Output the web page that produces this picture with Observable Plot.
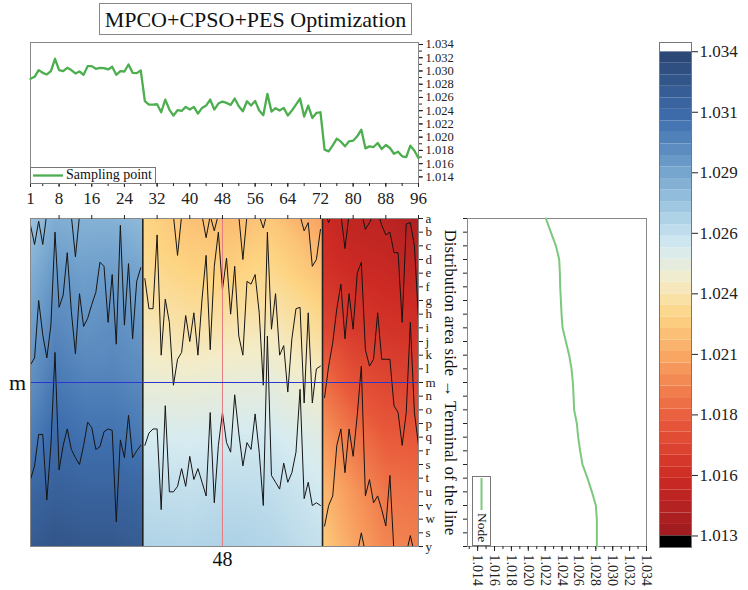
<!DOCTYPE html>
<html><head><meta charset="utf-8">
<script src="https://cdn.jsdelivr.net/npm/d3@7"></script>
<script src="https://cdn.jsdelivr.net/npm/@observablehq/plot@0.6"></script>
<style>
body{margin:0;background:#fff;}
#root{position:relative;width:748px;height:590px;font-family:"Liberation Serif","Times New Roman",serif;overflow:hidden;}
#root svg, #root svg text{font-family:"Liberation Serif","Times New Roman",serif !important;}
.abs{position:absolute;}
#title{left:99px;top:3px;width:311px;height:30px;border:1px solid #888;font-size:22px;text-align:center;line-height:31px;color:#111;}
</style></head>
<body><div id="root"><div id="title" class="abs">MPCO+CPSO+PES Optimization</div></div>
<script>
// ---------- data ----------
const samplingValues = [
 1.02881,1.02912,1.03013,1.02972,1.02947,1.02997,1.03184,1.03013,1.02997,1.03048,
 1.03013,1.02962,1.02992,1.02942,1.03073,1.03073,1.03033,1.03048,1.03043,1.03023,
 1.03063,1.02942,1.02997,1.02992,1.03098,1.02972,1.02967,1.03008,1.02543,1.02492,
 1.02492,1.02497,1.02376,1.02568,1.02417,1.02326,1.02407,1.02396,1.02457,1.02417,
 1.02457,1.02356,1.02442,1.02477,1.02568,1.02417,1.02508,1.02538,1.02518,1.02487,
 1.02583,1.02467,1.02391,1.02543,1.02477,1.02548,1.02402,1.02331,1.02654,1.02386,
 1.02437,1.02402,1.02442,1.02326,1.02402,1.02492,1.02583,1.02311,1.02477,1.02290,
 1.02366,1.02376,1.01811,1.01785,1.01876,1.01977,1.01932,1.01861,1.01937,1.01947,
 1.02013,1.02114,1.01831,1.01861,1.01851,1.01912,1.01821,1.01881,1.01836,1.01750,
 1.01780,1.01710,1.01700,1.01871,1.01795,1.01684];
const xTickLabels = [1, 8, 16, 24, 32, 40, 48, 56, 64, 72, 80, 88, 96];

const rowLabels = ["a","b","c","d","e","f","g","h","i","j","k","l","m","n","o","p","q","r","s","t","u","v","w","s","y"];
const nodeValues = [1.02208,1.02267,1.02327,1.02366,1.02374,1.02378,1.02386,1.02394,1.02406,1.02445,
 1.02484,1.02512,1.02528,1.02536,1.02543,1.02575,1.02591,1.02614,1.02642,1.02701,
 1.02753,1.02800,1.02812,1.02812,1.02812];

const selectedCol = 48;
const selectedRow = "m";

// heat map samples: rows (node index) x sample columns
const sampleRows = [0, 4, 8, 12, 16, 20, 24];
const blueCols = [1, 7, 14, 21, 28.5];
const blueGrid = [
 [1.0274,1.0284,1.0282,1.0282,1.0278],
 [1.0283,1.0293,1.0290,1.0291,1.0288],
 [1.0290,1.0300,1.0295,1.0297,1.0293],
 [1.0296,1.0306,1.0302,1.0302,1.0299],
 [1.0304,1.0313,1.0309,1.0309,1.0305],
 [1.0316,1.0320,1.0318,1.0318,1.0316],
 [1.0324,1.0328,1.0326,1.0326,1.0323]];
const midCols = [28.5, 40, 50, 60, 72.5];
const midGrid = [
 [1.0226,1.0218,1.0216,1.0220,1.0206],
 [1.0230,1.0225,1.0224,1.0228,1.0218],
 [1.0237,1.0233,1.0235,1.0237,1.0229],
 [1.0245,1.0244,1.0246,1.0247,1.0240],
 [1.0255,1.0254,1.0256,1.0256,1.0250],
 [1.0262,1.0261,1.0263,1.0262,1.0256],
 [1.0267,1.0266,1.0268,1.0266,1.0260]];
const redCols = [72.5, 80, 88, 96];
const redGrid = [
 [1.0155,1.0148,1.0146,1.0140],
 [1.0160,1.0155,1.0153,1.0150],
 [1.0170,1.0163,1.0160,1.0158],
 [1.0188,1.0176,1.0170,1.0168],
 [1.0203,1.0190,1.0180,1.0178],
 [1.0215,1.0202,1.0190,1.0188],
 [1.0222,1.0208,1.0196,1.0194]];
const blockEdges = [28.5, 72.5];

// contour lines (node position per sampling point)
const blueTopA = [0.5, 1.9, 0.2, 1.9, -0.4];                       // from col 1
const blueTopB = [-0.5, -0.2, 2.8, -0.2, -0.5];                    // from col 10
const blueMid = [10.7,10.2,6.0,8.5,10.2,7.8,1.0,6.5,5.6,2.5,6.8,9.9,5.5,7.9,7.3,6.3,5.4,3.2,3.5,7.6,4.1,9.2,0.5,7.8,3.3,8.8,4.6,3.6];
const blueLow = [19.1,18.1,15.8,15.8,20.6,16.6,9.8,18.4,16.6,15.4,16.9,17.5,18.0,16.6,14.9,15.3,16.9,16.7,15.6,15.4,15.5,22.2,16.2,17.5,14.4,17.5,17.0,16.6];
const midTop = [-0.5,-0.5,-0.5,-0.5,-0.5,-0.5,-0.5,-0.2,2.7,-0.2,-0.5,-0.5,-0.5,-0.5,-0.2,1.4,-0.2,0.9,-0.3,-0.5,-0.5,-0.5,-0.5,-0.2,3.0,-0.2,-0.5,-0.5,-0.2,0.7,-0.5,-0.5,-0.5,-0.5,-0.5,-0.2,-0.5,-0.5,-0.2,0.9,0.3,3.5,3.0,0.8];
const midMid = [4.4,6.6,6.6,1.2,10.0,5.9,7.6,12.2,10.3,9.8,7.1,9.0,6.9,10.0,5.9,2.7,9.6,3.5,1.0,5.2,2.9,7.0,3.5,8.6,10.0,4.6,4.8,4.1,6.9,12.2,1.0,8.1,5.5,10.0,9.3,12.7,8.8,6.6,6.5,13.5,6.9,13.5,11.0,10.8];
const midLow = [16.6,15.7,15.4,15.4,21.3,13.7,20.0,20.0,19.6,18.3,19.6,17.4,19.1,18.3,19.3,20.3,14.2,20.8,16.6,14.2,16.4,17.1,12.9,15.7,18.1,16.4,16.9,14.3,17.1,21.0,8.6,18.8,19.3,19.8,17.9,19.3,18.6,17.1,12.5,20.5,19.3,21.0,20.8,21.0];
const redTop = [-0.5,0.3,-0.5,-0.5,-0.3,2.2,-0.3,-0.5,-0.5,-0.5,0.8,0.3,-0.3,-0.5,0.5,1.2,1.0,2.5,2.5,7.6,0.4,0.3,2.0,7.4];
const redMid = [13.1,10.8,9.1,6.6,4.8,8.8,5.5,8.1,4.0,3.2,9.6,10.8,10.3,6.9,10.3,10.3,10.3,13.7,14.2,16.6,14.2,7.6,14.2,16.6];
const redLow = [22.5,21.0,20.3,16.6,15.4,18.6,15.4,17.4,14.4,10.8,20.3,19.1,20.8,20.3,21.3,22.5,18.8,24.5,25.0];
const redBottomA = [24.5, 23.0, 24.5];   // from col 81
const redBottomB = [24.5, 23.2, 24.5];   // from col 93

// colour bar
const colorStops = [1.013, 1.0155, 1.018, 1.0205, 1.0225, 1.024, 1.0255, 1.027, 1.029, 1.031, 1.034];
const colorRange = ["#9c1a1e","#cd2a24","#e95a3b","#f89f5f","#fdd482","#f4ecc8","#d6ebf1","#a6cde4","#6f9fcb","#3f6fae","#2a4471"];
const colorbarLabels = ["1.013","1.016","1.018","1.021","1.024","1.026","1.029","1.031","1.034"];

// ---------- helpers ----------
const serif = '"Liberation Serif","Times New Roman",serif';
const baseStyle = {background: "transparent", fontFamily: serif, color: "#222", overflow: "visible"};
const colorOpts = {type: "linear", domain: colorStops, range: colorRange, clamp: true};
const root = document.getElementById("root");
function place(el, left, top) {
  const d = document.createElement("div");
  d.className = "abs"; d.style.left = left + "px"; d.style.top = top + "px";
  d.appendChild(el); root.appendChild(d);
}
function samples(cols, grid) {
  const out = [];
  sampleRows.forEach((r, ri) => cols.forEach((c, ci) => out.push({x: c, y: r, v: grid[ri][ci]})));
  return out;
}
const contourSpecs = [[1, blueTopA], [10, blueTopB], [1, blueMid], [1, blueLow], [29, midTop], [29, midMid], [29, midLow],
  [73, redTop], [73, redMid], [73, redLow], [81, redBottomA], [93, redBottomB]];
const contourData = contourSpecs.flatMap(([start, arr], id) => arr.map((y, i) => ({x: start + i, y, id})));
const rowTicks = rowLabels.map((_, i) => i);
const selectedRowIndex = rowLabels.indexOf(selectedRow);

// ---------- top line chart ----------
const topChart = Plot.plot({
  width: 470, height: 182, marginLeft: 30, marginRight: 52, marginTop: 12, marginBottom: 29,
  style: baseStyle,
  x: {domain: [1, 96]}, y: {domain: [1.013, 1.0343]},
  marks: [
    Plot.frame({stroke: "#888"}),
    Plot.axisX({ticks: d3.range(4, 97, 4), tickSize: 3, tickFormat: () => "", label: null}),
    Plot.axisX({ticks: xTickLabels, tickSize: 4, tickPadding: 4, fontSize: 17, label: null}),
    Plot.axisY({anchor: "right", ticks: d3.ticks(1.014, 1.034, 20), tickSize: 3, tickFormat: () => "", label: null}),
    Plot.axisY({anchor: "right", ticks: d3.ticks(1.014, 1.034, 10), tickSize: 4, tickPadding: 3, tickFormat: ".3f", fontSize: 12.5, label: null}),
    Plot.line(samplingValues, {x: (d, i) => i + 1, y: d => d, stroke: "#4cae4f", strokeWidth: 2.3})
  ]
});
place(topChart, 0, 30);
{
  const g = d3.select(topChart).append("g");
  g.append("rect").attr("x", 30.5).attr("y", 137.5).attr("width", 125).attr("height", 16).attr("fill", "white").attr("stroke", "#777");
  g.append("line").attr("x1", 33).attr("x2", 63).attr("y1", 145.5).attr("y2", 145.5).attr("stroke", "#4cae4f").attr("stroke-width", 2.3);
  g.append("text").attr("x", 66).attr("y", 146).attr("text-anchor", "start").attr("dominant-baseline", "middle").attr("font-size", 14).attr("fill", "#111").text("Sampling point");
}

// ---------- heat map ----------
const heat = Plot.plot({
  width: 470, height: 378, marginLeft: 30, marginRight: 52, marginTop: 6, marginBottom: 44,
  style: baseStyle,
  x: {domain: [1, 96]}, y: {domain: [0, 24], reverse: true},
  color: colorOpts,
  marks: [
    Plot.raster(samples(blueCols, blueGrid), {x: "x", y: "y", fill: "v", x1: 1, x2: 28.5, y1: 0, y2: 24, interpolate: "barycentric"}),
    Plot.raster(samples(midCols, midGrid), {x: "x", y: "y", fill: "v", x1: 28.5, x2: 72.5, y1: 0, y2: 24, interpolate: "barycentric"}),
    Plot.raster(samples(redCols, redGrid), {x: "x", y: "y", fill: "v", x1: 72.5, x2: 96, y1: 0, y2: 24, interpolate: "barycentric"}),
    Plot.line(contourData, {x: "x", y: "y", z: "id", stroke: "#151515", strokeWidth: 1, clip: true}),
    Plot.ruleX(blockEdges, {stroke: "#222", strokeWidth: 1.6}),
    Plot.ruleX([selectedCol], {stroke: "#e67a80", strokeWidth: 1}),
    Plot.ruleY([selectedRowIndex], {stroke: "#2b35d0", strokeWidth: 1}),
    Plot.frame({stroke: "#888"}),
    Plot.axisX({anchor: "top", ticks: xTickLabels.slice(1), tickSize: 4, tickFormat: () => "", label: null}),
    Plot.axisY({anchor: "right", ticks: rowTicks, tickSize: 4, tickPadding: 3, tickFormat: i => rowLabels[i], fontSize: 13, label: null}),
    Plot.text(["Distribution area side \u2192 Terminal of the line"], {frameAnchor: "right", dx: 32, rotate: 90, textAnchor: "middle", fontSize: 17, fill: "#111"}),
    Plot.text([selectedRowIndex], {y: d => d, frameAnchor: "left", dx: -13, textAnchor: "middle", text: d => rowLabels[d], fontSize: 22, fill: "#111"}),
    Plot.text([selectedCol], {x: d => d, frameAnchor: "bottom", dy: 19, textAnchor: "middle", text: d => String(d), fontSize: 20, fill: "#111"})
  ]
});
place(heat, 0, 212);

// ---------- node profile ----------
const nodeChart = Plot.plot({
  width: 200, height: 378, marginLeft: 12, marginRight: 9, marginTop: 6, marginBottom: 44,
  style: baseStyle,
  x: {domain: [1.0128, 1.034]}, y: {domain: [0, 24], reverse: true},
  marks: [
    Plot.frame({stroke: "#888"}),
    Plot.axisY({anchor: "left", ticks: rowTicks, tickSize: 4, tickFormat: () => "", label: null}),
    Plot.axisX({ticks: d3.ticks(1.013, 1.034, 21), tickSize: 3, tickFormat: () => "", label: null}),
    Plot.axisX({ticks: d3.ticks(1.014, 1.034, 10), tickSize: 5, tickRotate: 90, tickPadding: 3, tickFormat: ".3f", fontSize: 14, label: null}),
    Plot.line(nodeValues, {x: d => d, y: (d, i) => i, stroke: "#7cc87c", strokeWidth: 2})
  ]
});
place(nodeChart, 455, 212);
{
  const g = d3.select(nodeChart).append("g");
  g.append("rect").attr("x", 17.5).attr("y", 264.5).attr("width", 18).attr("height", 69).attr("fill", "white").attr("stroke", "#777");
  g.append("line").attr("x1", 26.5).attr("x2", 26.5).attr("y1", 266).attr("y2", 298).attr("stroke", "#7cc87c").attr("stroke-width", 2);
  g.append("text").attr("transform", "translate(26.5,301) rotate(90)").attr("text-anchor", "start").attr("dominant-baseline", "middle").attr("font-size", 13.5).attr("fill", "#111").text("Node");
}

// ---------- colour bar ----------
const bandEdges = d3.range(43).map(k => 1.013 + k * 0.0005);
const bands = bandEdges.slice(0, -1).map((lo, k) => ({lo, hi: bandEdges[k + 1], mid: (lo + bandEdges[k + 1]) / 2}));
const cbTicks = colorbarLabels.map((_, k) => 1.013 + k * (0.021 / 8));
const cb = Plot.plot({
  width: 98, height: 530, marginLeft: 9, marginRight: 57, marginTop: 12, marginBottom: 13,
  style: baseStyle,
  x: {domain: [0, 1], axis: null}, y: {domain: [1.0125, 1.0344]},
  color: colorOpts,
  marks: [
    Plot.rect(bands, {x1: 0, x2: 1, y1: "lo", y2: "hi", fill: "mid"}),
    Plot.rect([{lo: 1.034, hi: 1.0344}], {x1: 0, x2: 1, y1: "lo", y2: "hi", fill: "white"}),
    Plot.rect([{lo: 1.0125, hi: 1.013}], {x1: 0, x2: 1, y1: "lo", y2: "hi", fill: "black"}),
    Plot.frame({stroke: "#777"}),
    Plot.axisY({anchor: "right", ticks: cbTicks, tickSize: 6, tickPadding: 2, tickFormat: d => colorbarLabels[cbTicks.indexOf(d)], fontSize: 17, label: null})
  ]
});
place(cb, 650, 30);
</script></body></html>
